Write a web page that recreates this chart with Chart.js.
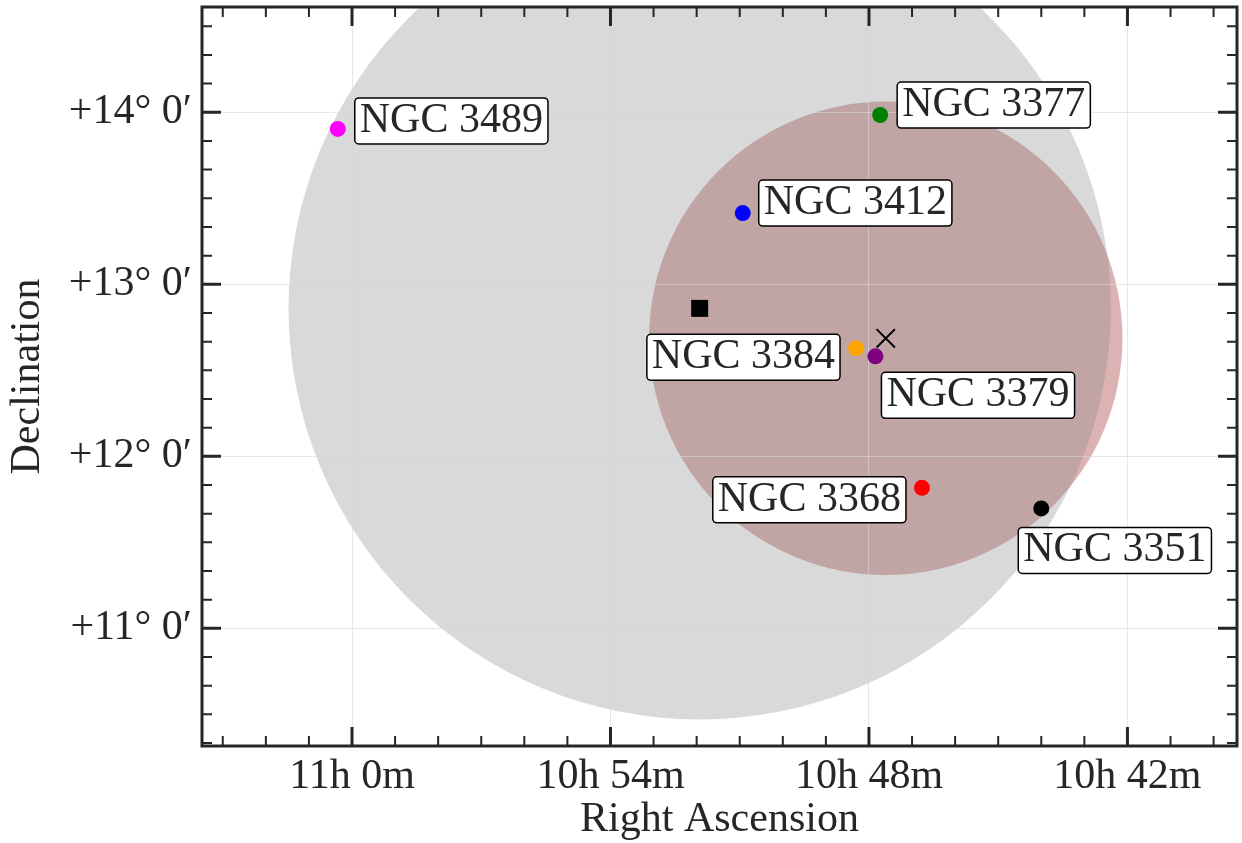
<!DOCTYPE html>
<html lang="en">
<head>
<meta charset="UTF-8">
<title>Galaxies around NGC 3379</title>
<script src="https://cdn.jsdelivr.net/npm/chart.js"></script>
<style>
  body { margin: 0; background: #fff; }
  canvas { display: block; }
</style>
</head>
<body>
<canvas id="sky" width="1242" height="843"></canvas>
<script>
// RA in minutes of time (660 = 11h 0m), Dec in degrees
const galaxyNames = ['NGC 3489', 'NGC 3377', 'NGC 3412', 'NGC 3384', 'NGC 3379', 'NGC 3368', 'NGC 3351'];
const galaxyRA = [660.33, 647.74, 650.93, 648.30, 647.85, 646.77, 644.00];
const galaxyDec = [13.903, 13.984, 13.414, 12.628, 12.581, 11.817, 11.697];
const galaxyColors = ['#ff00ff', '#008000', '#0000ff', '#ffa500', '#800080', '#ff0000', '#000000'];

const squareRA = [651.93];
const squareDec = [12.86];
const crossRA = [647.61];
const crossDec = [12.686];

// shaded regions: centre + radius in degrees
const circleRA = [647.61, 651.93];
const circleDec = [12.686, 12.86];
const circleRadiusDeg = [1.376, 2.39];

const raTicks = [642, 648, 654, 660];
const decTicks = [11, 12, 13, 14];

// label box placement relative to the point (px): dx, dy of box centre line, which edge dx sets
const labelOffsets = [[17, -8, 'left'], [17, -10, 'left'], [16, -10, 'left'], [-16, 9, 'right'],
                      [6, 39, 'left'], [-16, 12, 'right'], [-23, 42, 'left']];
const circleFill = ['rgba(139,0,0,0.3)', 'rgba(128,128,128,0.3)'];

const serif = '"Liberation Serif", "Times New Roman", serif';
const ink = '#262626';

const skyPlugin = {
  id: 'sky',
  beforeDraw(chart) {
    const { ctx, chartArea: a, scales: { x, y } } = chart;
    ctx.save();
    ctx.beginPath();
    ctx.rect(a.left, a.top, a.right - a.left, a.bottom - a.top);
    ctx.clip();
    circleRA.forEach((ra, i) => {
      const cx = x.getPixelForValue(ra);
      const cy = y.getPixelForValue(circleDec[i]);
      const r = Math.abs(y.getPixelForValue(circleDec[i] + circleRadiusDeg[i]) - cy);
      ctx.fillStyle = circleFill[i];
      ctx.beginPath();
      ctx.arc(cx, cy, r, 0, Math.PI * 2);
      ctx.fill();
    });
    ctx.restore();
  },
  afterDatasetsDraw(chart) {
    const { ctx, scales: { x, y } } = chart;
    ctx.save();
    ctx.font = '42px ' + serif;
    ctx.textBaseline = 'alphabetic';
    ctx.textAlign = 'left';
    galaxyNames.forEach((name, i) => {
      const px = x.getPixelForValue(galaxyRA[i]);
      const py = y.getPixelForValue(galaxyDec[i]);
      const [dx, dy, side] = labelOffsets[i];
      const w = ctx.measureText(name).width + 10;
      const h = 46;
      const left = side === 'left' ? px + dx : px + dx - w;
      const top = py + dy - h / 2;
      ctx.beginPath();
      ctx.roundRect(left, top, w, h, 4);
      ctx.fillStyle = '#fff';
      ctx.fill();
      ctx.lineWidth = 1.5;
      ctx.strokeStyle = '#000';
      ctx.stroke();
      ctx.fillStyle = ink;
      ctx.fillText(name, left + 5, top + 34);
    });
    ctx.restore();
  },
  afterDraw(chart) {
    const { ctx, chartArea: a, scales: { x, y } } = chart;
    ctx.save();
    ctx.strokeStyle = ink;
    ctx.lineCap = 'butt';
    for (let v = Math.ceil(x.min); v <= Math.floor(x.max); v++) {
      const px = x.getPixelForValue(v);
      const major = v % 6 === 0;
      const len = major ? 19 : 10;
      ctx.lineWidth = major ? 3 : 2;
      ctx.beginPath();
      ctx.moveTo(px, a.bottom); ctx.lineTo(px, a.bottom - len);
      ctx.moveTo(px, a.top); ctx.lineTo(px, a.top + len);
      ctx.stroke();
    }
    for (let k = Math.ceil(y.min * 6 - 1e-6); k <= Math.floor(y.max * 6 + 1e-6); k++) {
      const py = y.getPixelForValue(k / 6);
      const major = k % 6 === 0;
      const len = major ? 19 : 10;
      ctx.lineWidth = major ? 3 : 2;
      ctx.beginPath();
      ctx.moveTo(a.left, py); ctx.lineTo(a.left + len, py);
      ctx.moveTo(a.right, py); ctx.lineTo(a.right - len, py);
      ctx.stroke();
    }
    ctx.lineWidth = 3;
    ctx.strokeRect(a.left, a.top, a.right - a.left, a.bottom - a.top);
    ctx.restore();
  }
};

const toPoints = (xs, ys) => xs.map((v, i) => ({ x: v, y: ys[i] }));

new Chart(document.getElementById('sky'), {
  type: 'scatter',
  data: {
    datasets: [
      {
        data: toPoints(galaxyRA, galaxyDec),
        pointStyle: 'circle',
        pointRadius: 8,
        pointBackgroundColor: galaxyColors,
        pointBorderWidth: 0
      },
      {
        data: toPoints(squareRA, squareDec),
        pointStyle: 'rect',
        pointRadius: 12,
        pointBackgroundColor: '#000',
        pointBorderWidth: 0
      },
      {
        data: toPoints(crossRA, crossDec),
        pointStyle: 'crossRot',
        pointRadius: 13,
        pointBorderColor: '#000',
        pointBorderWidth: 2
      }
    ]
  },
  options: {
    responsive: false,
    animation: false,
    devicePixelRatio: 1,
    layout: { autoPadding: false, padding: { top: 7, right: 5, left: 0, bottom: 0 } },
    plugins: { legend: { display: false }, tooltip: { enabled: false } },
    scales: {
      x: {
        type: 'linear',
        reverse: true,
        min: 639.457,
        max: 663.482,
        afterFit: s => { s.height = 97; s.paddingLeft = 0; s.paddingRight = 0; },
        afterBuildTicks: s => { s.ticks = raTicks.map(v => ({ value: v })); },
        border: { display: false },
        grid: { color: 'rgba(215,215,215,0.6)', lineWidth: 1, drawTicks: false },
        ticks: {
          padding: 6,
          maxRotation: 0,
          color: ink,
          font: { family: serif, size: 42 },
          callback: v => {
            const h = Math.floor(v / 60);
            return h + 'h ' + Math.round(v - h * 60) + 'm';
          }
        },
        title: {
          display: true,
          text: 'Right Ascension',
          color: ink,
          font: { family: serif, size: 42 },
          padding: { top: 0, bottom: -2 }
        }
      },
      y: {
        type: 'linear',
        min: 10.316,
        max: 14.612,
        afterFit: s => { s.width = 202; s.paddingTop = 0; s.paddingBottom = 0; },
        afterBuildTicks: s => { s.ticks = decTicks.map(v => ({ value: v })); },
        border: { display: false },
        grid: { color: 'rgba(215,215,215,0.6)', lineWidth: 1, drawTicks: false },
        ticks: {
          padding: 10,
          color: ink,
          font: { family: serif, size: 42 },
          callback: v => '+' + v + '° 0′'
        },
        title: {
          display: true,
          text: 'Declination',
          color: ink,
          font: { family: serif, size: 42 },
          padding: { top: 3, bottom: 0 }
        }
      }
    }
  },
  plugins: [skyPlugin]
});
</script>
</body>
</html>
